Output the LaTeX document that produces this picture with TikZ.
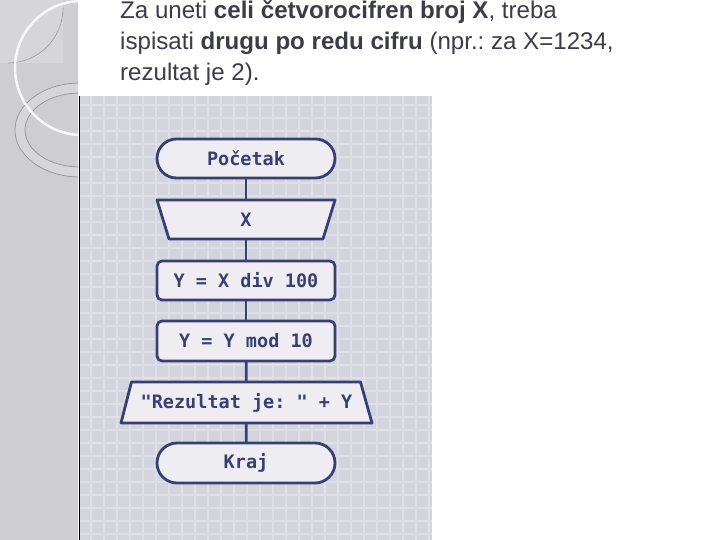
\documentclass[tikz,border=0pt]{standalone}
\usepackage{fontspec}
\setmainfont{Liberation Sans}
\newfontfamily\codefont{DejaVu Sans Mono}
\frenchspacing
\definecolor{navy}{HTML}{3A3E76}
\definecolor{boxfill}{HTML}{EEEEF2}
\definecolor{gridbg}{HTML}{D3D5DD}
\definecolor{gridln}{HTML}{DEE0E6}
\definecolor{strip}{HTML}{CDCDD2}
\definecolor{stripl}{HTML}{D6D6DA}
\definecolor{txt}{HTML}{3C3C46}
\pgfdeclarelayer{back}
\pgfdeclarelayer{bg}
\pgfsetlayers{back,bg,main}
\tikzset{
  title/.style={anchor=base west, inner sep=0, text=txt, font=\fontsize{24.1}{26}\selectfont},
  fc/.style={inner sep=0, outer sep=0, text=navy, font=\codefont\bfseries\fontsize{18.5}{18.5}\selectfont},
  shp/.style={draw=navy, fill=boxfill, line width=2.8pt, line join=round},
  conn/.style={draw=navy, line width=2.8pt},
}
\begin{document}
\begin{tikzpicture}[x=1pt,y=-1pt]
\useasboundingbox (0,0) rectangle (720,540);
\begin{pgfonlayer}{back}
  \fill[white] (0,0) rectangle (720,540);
  % left decorative strip
  \begin{scope}
    \clip (0,0) rectangle (78,540);
    \fill[strip] (0,0) rectangle (78,540);
    \fill[stripl] (0,0) rectangle (63,63);
    \draw[gray!80, line width=0.6pt] (63,8) arc[start angle=0, end angle=90, radius=55];
    \fill[stripl, even odd rule] (80,130) ellipse[x radius=65, y radius=47] (80,130) ellipse[x radius=55, y radius=37];
    \draw[gray!85, line width=0.7pt] (80,130) ellipse[x radius=65, y radius=47];
    \draw[gray!85, line width=0.7pt] (80,130) ellipse[x radius=55, y radius=37];
    \draw[white, opacity=0.85, line width=2.5pt] (82,68) circle[radius=67];
  \end{scope}
  % flowchart image background
  \fill[gridbg] (80,96) rectangle (432,540);
  \begin{scope}
    \clip (80,96) rectangle (432,540);
    \foreach \x in {91,104,...,432} \draw[gridln, line width=1.3pt] (\x,96) -- (\x,540);
    \foreach \y in {105,118,...,540} \draw[gridln, line width=1.3pt] (80,\y) -- (432,\y);
  \end{scope}
  \draw[black, line width=1pt] (79,96) -- (79,540);
\end{pgfonlayer}

% title text
\node[title] (t1) at (120,19) {Za uneti \textbf{celi četvorocifren broj X}, treba};
\node[title] (t2) at (120,50) {ispisati \textbf{drugu po redu cifru} (npr.: za X=1234,};
\node[title] (t3) at (120,81) {rezultat je 2).};

% flowchart nodes
\node[fc, minimum width=178, minimum height=39] (start) at (246,158.5) {Početak};
\node[fc, minimum width=178, minimum height=39] (in) at (246,219.5) {X};
\node[fc, minimum width=178, minimum height=39] (p1) at (246,280.5) {Y = X div 100};
\node[fc, minimum width=178, minimum height=40] (p2) at (246,341) {Y = Y mod 10};
\node[fc, minimum width=251, minimum height=41] (out) at (246.5,402.5) {"Rezultat je: " + Y};
\node[fc, minimum width=178, minimum height=40] (end) at (246,463) {Kraj};

\begin{pgfonlayer}{bg}
  \draw[shp, rounded corners=19.5pt] (start.north west) rectangle (start.south east);
  \draw[shp] (in.north west) -- (in.north east) -- ([xshift=-12pt]in.south east) -- ([xshift=12pt]in.south west) -- cycle;
  \draw[shp, rounded corners=5pt] (p1.north west) rectangle (p1.south east);
  \draw[shp, rounded corners=5pt] (p2.north west) rectangle (p2.south east);
  \draw[shp] ([xshift=10.5pt]out.north west) -- ([xshift=-11.5pt]out.north east) -- (out.south east) -- (out.south west) -- cycle;
  \draw[shp, rounded corners=20pt] (end.north west) rectangle (end.south east);
\end{pgfonlayer}

% connectors
\draw[conn] (start) -- (in);
\draw[conn] (in) -- (p1);
\draw[conn] (p1) -- (p2);
\draw[conn] (p2) -- (out);
\draw[conn] (out) -- (end);
\end{tikzpicture}
\end{document}
